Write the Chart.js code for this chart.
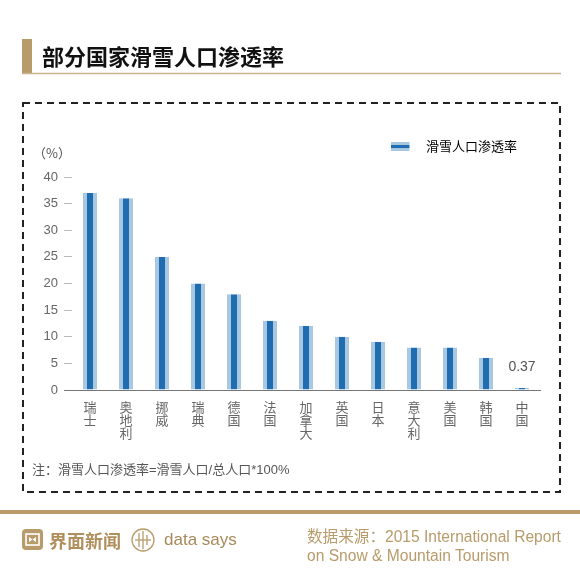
<!DOCTYPE html>
<html><head><meta charset="utf-8">
<script src="https://cdn.jsdelivr.net/npm/chart.js@4.4.1/dist/chart.umd.min.js"></script>
<style>
html,body{margin:0;padding:0;background:#fff;}
#wrap{position:relative;width:580px;height:572px;overflow:hidden;font-family:"Liberation Sans","Noto Sans CJK SC",sans-serif;}
#c{position:absolute;left:0;top:0;}
svg{position:absolute;left:0;top:0;}
.t{position:absolute;white-space:nowrap;}
</style></head><body>
<div id="wrap">
<svg width="580" height="572">
 <rect x="22" y="39" width="10" height="34" fill="#b89b6a"/>
 <line x1="22" y1="73.5" x2="561" y2="73.5" stroke="#c9b48e" stroke-width="1.5"/>
 <rect x="23" y="103" width="537" height="389" fill="none" stroke="#222" stroke-width="2" stroke-dasharray="7 5"/>
 <rect x="0" y="510" width="580" height="4" fill="#b89b6a"/>
 <rect x="22" y="529" width="21" height="21" rx="4" fill="#b89b6a"/>
 <rect x="26" y="534" width="13" height="11" fill="none" stroke="#fff" stroke-width="1.6"/>
 <path d="M29 537 L32.5 539.5 L36 537 L36 542 L32.5 539.5 L29 542 Z" fill="#fff"/>
 <circle cx="143" cy="540" r="11" fill="none" stroke="#b89b6a" stroke-width="1.3"/>
 <line x1="139" y1="533" x2="139" y2="547" stroke="#b89b6a" stroke-width="1.3"/>
 <line x1="143" y1="531" x2="143" y2="549" stroke="#b89b6a" stroke-width="1.3"/>
 <line x1="147" y1="535" x2="147" y2="545" stroke="#b89b6a" stroke-width="1.3"/>
 <line x1="135" y1="540" x2="151" y2="540" stroke="#b89b6a" stroke-width="1.3"/>
</svg>
<canvas id="c" width="580" height="572"></canvas>
<div class="t" style="left:42px;top:40px;font-size:22px;font-weight:bold;color:#111;line-height:30px;font-family:'Noto Sans CJK SC',sans-serif;">部分国家滑雪人口渗透率</div>
<div class="t" style="left:33px;top:145px;font-size:13px;color:#555;line-height:16px;font-family:'Noto Sans CJK SC',sans-serif;">（%）</div>
<div class="t" style="left:32px;top:462px;font-size:13px;color:#555;line-height:16px;">注：滑雪人口渗透率=滑雪人口/总人口*100%</div>
<div class="t" style="left:49px;top:529px;font-size:18px;font-weight:bold;color:#b08f5c;line-height:22px;font-family:'Noto Sans CJK SC',sans-serif;">界面新闻</div>
<div class="t" style="left:164px;top:529px;font-size:17px;color:#a88a5a;line-height:22px;">data says</div>
<div class="t" style="left:307px;top:527px;font-size:15.6px;color:#b89b6a;line-height:19px;">数据来源：2015 International Report<br>on Snow &amp; Mountain Tourism</div>
</div>
<script>
const categories = [['瑞','士'],['奥','地','利'],['挪','威'],['瑞','典'],['德','国'],['法','国'],['加','拿','大'],['英','国'],['日','本'],['意','大','利'],['美','国'],['韩','国'],['中','国']];
const penetration = [37, 36, 25, 20, 18, 13, 12, 10, 9, 8, 8, 6, 0.37];
const yTickValues = [0, 5, 10, 15, 20, 25, 30, 35, 40];
const labeledIndices = [12];
const seriesName = '滑雪人口渗透率';

const lightBlue = '#a8c8e1', darkBlue = '#1f6db0';
Chart.defaults.font.family = "'Liberation Sans','Noto Sans CJK SC',sans-serif";

const swatch = document.createElement('canvas');
swatch.width = 28; swatch.height = 9;
const sctx = swatch.getContext('2d');
sctx.fillStyle = lightBlue; sctx.fillRect(0, 0, 18, 9);
sctx.fillStyle = darkBlue; sctx.fillRect(0, 3, 18, 3);

const legendSpacer = {
  id: 'legendSpacer',
  beforeInit(chart) {
    const orig = chart.legend.fit;
    chart.legend.fit = function () { orig.call(this); this.height += 14; };
  }
};
const valueLabel = {
  id: 'valueLabel',
  afterDatasetsDraw(chart) {
    const meta = chart.getDatasetMeta(0);
    const ctx = chart.ctx;
    ctx.save();
    ctx.font = "14px 'Liberation Sans',sans-serif";
    ctx.fillStyle = '#555';
    ctx.textAlign = 'center';
    ctx.textBaseline = 'middle';
    labeledIndices.forEach(i => {
      const bar = meta.data[i];
      ctx.fillText(String(penetration[i]), bar.x, bar.y - 21);
    });
    ctx.restore();
  }
};

new Chart(document.getElementById('c'), {
  type: 'bar',
  data: {
    labels: categories,
    datasets: [{
      label: seriesName,
      data: penetration,
      backgroundColor: darkBlue,
      borderColor: lightBlue,
      borderWidth: {left: 4, right: 4, top: 0, bottom: 0},
      borderSkipped: false,
      barThickness: 14,
      inflateAmount: 0
    }]
  },
  options: {
    responsive: false,
    animation: false,
    layout: {padding: {top: 117, left: 0, right: 40, bottom: 0}},
    plugins: {
      tooltip: {enabled: false},
      legend: {
        position: 'top',
        align: 'end',
        labels: {
          usePointStyle: true,
          pointStyleWidth: 28,
          padding: 23,
          color: '#333',
          font: {size: 13, family: "'Noto Sans CJK SC',sans-serif"},
          generateLabels() {
            return [{text: seriesName, pointStyle: swatch, fillStyle: darkBlue, strokeStyle: lightBlue, lineWidth: 0, hidden: false, datasetIndex: 0}];
          }
        }
      }
    },
    scales: {
      x: {
        grid: {display: false, drawTicks: false},
        border: {display: true, color: '#777', width: 1},
        ticks: {color: '#666', font: {size: 13, lineHeight: 1.0}, padding: 12, maxRotation: 0, minRotation: 0, autoSkip: false},
        afterFit(s) { s.height = 182; }
      },
      y: {
        min: 0, max: 40,
        afterBuildTicks(s) { s.ticks = yTickValues.map(v => ({value: v})); },
        grid: {drawOnChartArea: false, drawTicks: true, tickLength: 8,
               color: c => (c.tick && c.tick.value === 0) ? '#777' : '#bbb'},
        border: {display: false},
        ticks: {color: '#666', font: {size: 13}, padding: 6},
        afterFit(s) { s.width = 72; }
      }
    }
  },
  plugins: [legendSpacer, valueLabel]
});
</script>
</body></html>
